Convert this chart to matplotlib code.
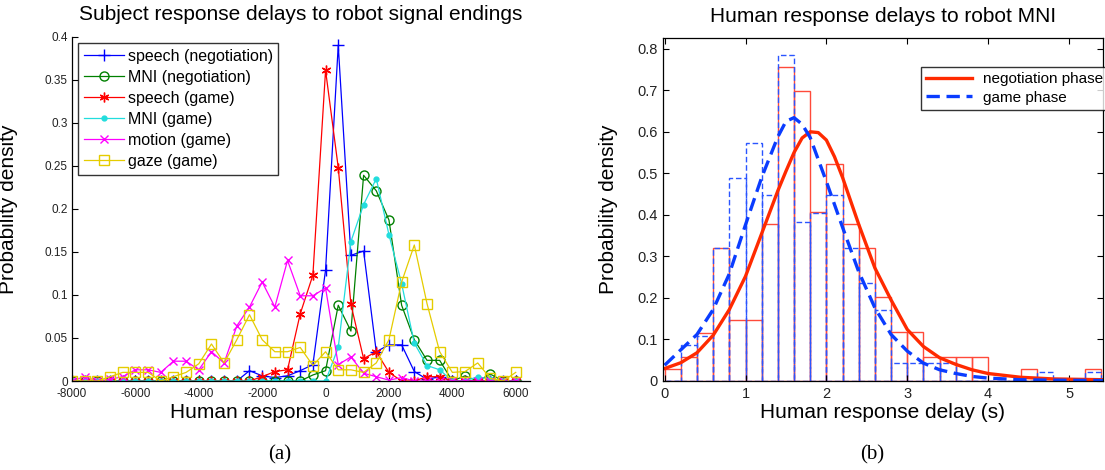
import numpy as np
import matplotlib
matplotlib.use("Agg")
import matplotlib.pyplot as plt

plt.rcParams["font.family"] = ["Liberation Sans", "DejaVu Sans"]
plt.rcParams["axes.unicode_minus"] = False

# ---- panel (a): response delay densities, 400 ms bins ----
delay_ms = np.arange(-8000, 6001, 400)

speech_neg = [0, 0, 0, 0, 0, 0, 0, 0, 0, 0, 0, 0, 0, 0, 0.012, 0.006, 0.004, 0.006,
              0.012, 0.019, 0.129, 0.390, 0.146, 0.151, 0.034, 0.042, 0.042, 0.011,
              0.002, 0.005, 0, 0, 0, 0, 0, 0]
mni_neg = [0, 0, 0, 0, 0, 0, 0, 0, 0, 0, 0, 0, 0, 0, 0, 0, 0, 0,
           0, 0.007, 0.012, 0.088, 0.058, 0.239, 0.221, 0.187, 0.088, 0.048,
           0.024, 0.024, 0, 0.006, 0, 0.008, 0, 0]
speech_game = [0, 0, 0, 0, 0, 0, 0, 0, 0, 0, 0, 0, 0, 0, 0, 0.005, 0.011, 0.013,
               0.078, 0.123, 0.361, 0.248, 0.089, 0.026, 0.034, 0.010, 0, 0,
               0.005, 0.005, 0, 0, 0, 0, 0, 0]
mni_game = [0, 0, 0, 0, 0, 0, 0, 0, 0, 0, 0, 0, 0, 0, 0, 0, 0, 0,
            0, 0, 0, 0.039, 0.162, 0.205, 0.235, 0.170, 0.113, 0.044,
            0.018, 0.013, 0, 0, 0.005, 0.002, 0, 0]
motion_game = [0, 0.005, 0, 0.002, 0.005, 0.013, 0.013, 0.010, 0.023, 0.023, 0.013, 0.034,
               0.021, 0.064, 0.086, 0.115, 0.086, 0.140, 0.099, 0.099, 0.108, 0.019,
               0.028, 0.009, 0.005, 0.001, 0.004, 0, 0, 0, 0, 0, 0, 0, 0, 0]
gaze_game = [0, 0, 0, 0.005, 0.010, 0.010, 0.010, 0, 0.005, 0.010, 0.020, 0.043,
             0.021, 0.048, 0.077, 0.048, 0.034, 0.034, 0.039, 0.018, 0.034, 0.013,
             0.013, 0.010, 0.021, 0.048, 0.115, 0.158, 0.090, 0.034, 0.010, 0.011,
             0.021, 0.003, 0, 0.010]

left_labels = ["speech (negotiation)", "MNI (negotiation)", "speech (game)",
               "MNI (game)", "motion (game)", "gaze (game)"]

# ---- panel (b): MNI response histograms (0.2 s bins) and fitted curves ----
bin_edges = np.arange(0, 5.41, 0.2)
hist_neg = [0.029, 0.058, 0.116, 0.319, 0.147, 0.147, 0.379, 0.757, 0.697, 0.407,
            0.523, 0.379, 0.319, 0.203, 0.117, 0.117, 0.058, 0.058, 0.058, 0.058,
            0, 0, 0.029, 0, 0, 0, 0.029]
hist_game = [0, 0.087, 0.108, 0.319, 0.489, 0.573, 0.447, 0.786, 0.382, 0.405,
             0.447, 0.319, 0.235, 0.172, 0.044, 0.044, 0.044, 0.044, 0, 0,
             0, 0, 0, 0.021, 0, 0, 0.021]

neg_x = [0, 0.2, 0.4, 0.6, 0.8, 1.0, 1.2, 1.4, 1.5, 1.6, 1.7, 1.8, 1.9, 2.0, 2.1,
         2.2, 2.4, 2.6, 2.8, 3.0, 3.2, 3.4, 3.6, 3.8, 4.0, 4.4, 4.8, 5.45]
neg_y = [0.030, 0.044, 0.068, 0.110, 0.172, 0.252, 0.355, 0.458, 0.505, 0.550, 0.585,
         0.600, 0.598, 0.580, 0.540, 0.490, 0.377, 0.272, 0.195, 0.124, 0.083, 0.056,
         0.040, 0.027, 0.018, 0.009, 0.005, 0.003]
game_x = [0, 0.2, 0.4, 0.6, 0.8, 1.0, 1.2, 1.4, 1.5, 1.6, 1.7, 1.8, 2.0, 2.2, 2.4,
          2.6, 2.8, 3.0, 3.2, 3.4, 3.6, 3.8, 4.0, 4.4, 4.8, 5.45]
game_y = [0.038, 0.075, 0.112, 0.172, 0.258, 0.376, 0.490, 0.588, 0.625, 0.634, 0.618,
          0.586, 0.480, 0.370, 0.263, 0.176, 0.112, 0.072, 0.043, 0.027, 0.018, 0.011,
          0.007, 0.003, 0.002, 0.001]

W, H = 1105, 470
fig = plt.figure(figsize=(W / 100, H / 100), dpi=100)
ax1 = fig.add_axes([72 / W, 1 - 381 / H, 458 / W, 344.3 / H])
ax2 = fig.add_axes([663 / W, 1 - 381 / H, 440 / W, 342.7 / H])

lw = 0.9
ax1.plot(delay_ms, speech_neg, color="#0000ff", marker="+", ms=8, mew=1, lw=lw)
ax1.plot(delay_ms, mni_neg, color="#008000", marker="o", ms=6.5, mfc="none", mew=1, lw=lw)
ax1.plot(delay_ms, speech_game, color="#ff0000", marker=(6, 2, 0), ms=7, mew=1, lw=lw)
ax1.plot(delay_ms, mni_game, color="#22dddd", marker=".", ms=7, lw=lw)
ax1.plot(delay_ms, motion_game, color="#ff00ff", marker="x", ms=6, mew=1, lw=lw)
ax1.plot(delay_ms, gaze_game, color="#e5cc00", marker="s", ms=7, mfc="none", mew=1, lw=lw)

ax1.set_xlim(-8000, 6450)
ax1.set_ylim(0, 0.4)
ax1.set_xticks(np.arange(-8000, 6001, 2000))
ax1.set_yticks(np.arange(0, 0.401, 0.05))
ax1.set_yticklabels(["0", "0.05", "0.1", "0.15", "0.2", "0.25", "0.3", "0.35", "0.4"])
ax1.spines["top"].set_visible(False)
ax1.spines["right"].set_visible(False)
ax1.tick_params(direction="in", length=4, labelsize=8.5, labelcolor="#222222", pad=3)
ax1.tick_params(axis="x", pad=5)
ax1.set_title("Subject response delays to robot signal endings", fontsize=15, pad=12)
ax1.set_xlabel("Human response delay (ms)", fontsize=15)
ax1.set_ylabel("Probability density", fontsize=15)
ax1.xaxis.set_label_coords(0.5, -0.065)
ax1.yaxis.set_label_coords(-0.118, 0.5)
leg1 = ax1.legend(left_labels, loc="upper left", bbox_to_anchor=(78 / W, 1 - 43 / H),
                  bbox_transform=fig.transFigure, fontsize=11.5, frameon=True, fancybox=False,
                  edgecolor="black", handlelength=2.5, handletextpad=0.25, labelspacing=0.38,
                  borderpad=0.35, borderaxespad=0)
leg1.get_frame().set_linewidth(1.0)

ax2.bar(bin_edges[:-1], hist_neg, width=0.2, align="edge", fill=False,
        edgecolor="#ff4a3a", linewidth=1.0)
ax2.bar(bin_edges[:-1], hist_game, width=0.2, align="edge", fill=False,
        edgecolor="#2a55ff", linewidth=1.0, linestyle=(0, (4, 2)))
ax2.plot(neg_x, neg_y, color="#ff2a00", lw=2.4, label="negotiation phase")
ax2.plot(game_x, game_y, color="#0a3cff", lw=2.4, ls=(0, (4, 2)), label="game phase")

ax2.set_xlim(-0.02, 5.42)
ax2.set_ylim(0, 0.825)
ax2.set_xticks(range(0, 6))
ax2.set_yticks(np.arange(0, 0.81, 0.1))
ax2.set_yticklabels(["0", "0.1", "0.2", "0.3", "0.4", "0.5", "0.6", "0.7", "0.8"])
ax2.tick_params(direction="in", length=4, labelsize=10.5, labelcolor="#222222", pad=4,
                top=True, right=True)
ax2.set_title("Human response delays to robot MNI", fontsize=15, pad=12)
ax2.set_xlabel("Human response delay (s)", fontsize=15)
ax2.set_ylabel("Probability density", fontsize=15)
ax2.xaxis.set_label_coords(0.5, -0.065)
ax2.yaxis.set_label_coords(-0.102, 0.5)
leg2 = ax2.legend(loc="upper left", bbox_to_anchor=(921 / W, 1 - 66.7 / H),
                  bbox_transform=fig.transFigure, fontsize=11, frameon=True, fancybox=False,
                  edgecolor="black", handlelength=3.0, handletextpad=0.7, labelspacing=0.3,
                  borderpad=0.35, borderaxespad=0)
leg2.get_frame().set_linewidth(1.0)

for a in (ax1, ax2):
    for s in a.spines.values():
        s.set_linewidth(0.9)

fig.text(280 / W, 1 - 455 / H, "(a)", ha="center", va="center", fontsize=15,
         family=["Liberation Serif", "DejaVu Serif"])
fig.text(872 / W, 1 - 455 / H, "(b)", ha="center", va="center", fontsize=15,
         family=["Liberation Serif", "DejaVu Serif"])

fig.savefig("out.png", dpi=100)
